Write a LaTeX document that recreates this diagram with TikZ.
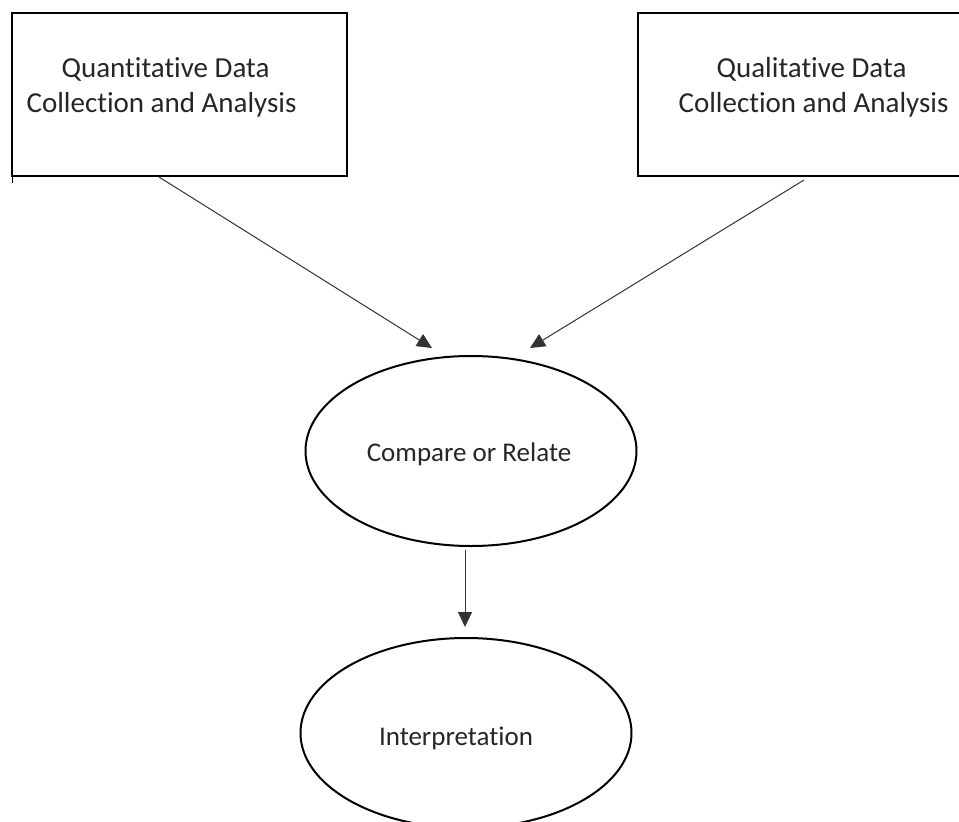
\documentclass[tikz,border=0pt]{standalone}
\usepackage{fontspec}
\setmainfont{Carlito}[Ligatures=NoCommon]
\usetikzlibrary{shapes.geometric,arrows.meta}
\begin{document}
\begin{tikzpicture}[x=1pt,y=-1pt,
  txt/.style={font=\fontsize{29}{35}\selectfont, text=black!85, anchor=base, inner sep=0pt},
  etxt/.style={txt, font=\fontsize{27}{32}\selectfont},
  boxline/.style={draw=black, line width=2pt},
  ell/.style={draw=black, line width=2pt, ellipse, minimum width=331pt, minimum height=190pt, inner sep=0pt},
  conn/.style={draw=black!80, line width=1pt, -{Triangle[length=15pt,width=14pt]}}]
\useasboundingbox (0,0) rectangle (959,822);
\clip (0,0) rectangle (959,822);
% boxes
\draw[boxline] (12,13) rectangle (347,176);
\draw[line width=0.8pt] (12,150) -- (12,183);
\draw[boxline] (638,13) rectangle (966,176);
% texts
\node[txt] (qn1) at (165.5,77) {Quantitative Data};
\node[txt] (qn2) at (161.5,112) {Collection and Analysis};
\node[txt] (ql1) at (811.5,77) {Qualitative Data};
\node[txt] (ql2) at (813.5,112) {Collection and Analysis};
% ellipses
\node[ell] (cmp) at (471,451) {};
\node[etxt] (cmpt) at (469,461) {Compare or Relate};
\node[ell] (int) at (466,733) {};
\node[etxt] (intt) at (456,745) {Interpretation};
% connectors
\coordinate (a1s) at (159,177);
\coordinate (a1e) at (432,348);
\coordinate (a2s) at (804,180);
\coordinate (a2e) at (530,348);
\coordinate (a3s) at (465,550);
\coordinate (a3e) at (465,627);
\draw[conn] (a1s) -- (a1e);
\draw[conn] (a2s) -- (a2e);
\draw[conn] (a3s) -- (a3e);
\end{tikzpicture}
\end{document}
